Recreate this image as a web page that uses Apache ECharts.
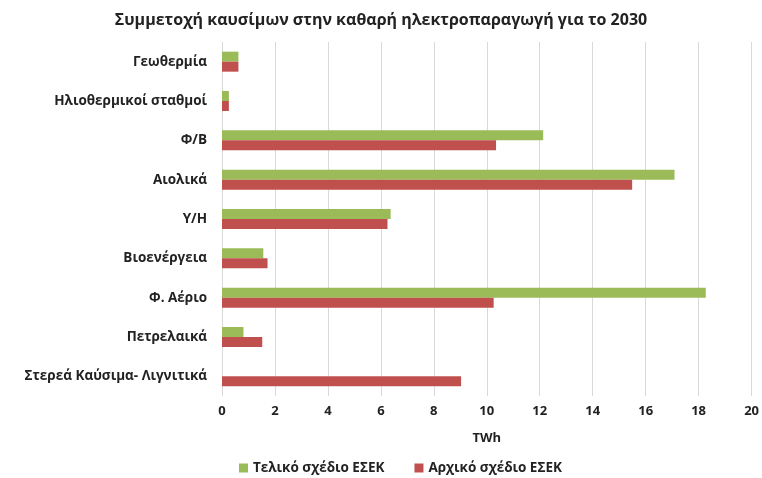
<!DOCTYPE html>
<html>
<head>
<meta charset="utf-8">
<script src="https://cdn.jsdelivr.net/npm/echarts@6/dist/echarts.min.js"></script>
<style>
  html, body { margin: 0; padding: 0; background: #fff; }
  #chart { width: 762px; height: 478px; }
</style>
</head>
<body>
<div id="chart"></div>
<script>
const categories = ['Γεωθερμία', 'Ηλιοθερμικοί σταθμοί', 'Φ/Β', 'Αιολικά', 'Υ/Η',
  'Βιοενέργεια', 'Φ. Αέριο', 'Πετρελαικά', 'Στερεά Καύσιμα- Λιγνιτικά'];
const finalPlan = [0.62, 0.26, 12.13, 17.09, 6.37, 1.56, 18.27, 0.81, 0];
const initialPlan = [0.62, 0.26, 10.35, 15.49, 6.25, 1.72, 10.26, 1.52, 9.03];

const font = '"Open Sans", "Noto Sans", sans-serif';
const chart = echarts.init(document.getElementById('chart'));

chart.setOption({
  animation: false,
  textStyle: { fontFamily: font },
  title: {
    text: 'Συμμετοχή καυσίμων στην καθαρή ηλεκτροπαραγωγή για το 2030',
    left: 'center',
    top: 7,
    textStyle: { fontSize: 16, fontWeight: 'bold', color: '#222', fontFamily: font }
  },
  legend: {
    bottom: -2,
    left: 234,
    itemWidth: 9,
    itemHeight: 9,
    itemGap: 30,
    icon: 'rect',
    textStyle: { fontSize: 13.5, fontWeight: 'bold', color: '#222', fontFamily: font },
    data: ['Τελικό σχέδιο ΕΣΕΚ', 'Αρχικό σχέδιο ΕΣΕΚ']
  },
  grid: { left: 222, right: 9, top: 42, bottom: 82 },
  xAxis: {
    type: 'value',
    min: 0,
    max: 20,
    interval: 2,
    name: 'TWh',
    nameLocation: 'middle',
    nameGap: 36,
    nameTextStyle: { fontSize: 13, fontWeight: 'bold', color: '#222' },
    axisLine: { show: false },
    axisTick: { show: false },
    axisLabel: { fontSize: 13, fontWeight: 'bold', color: '#222', margin: 9 },
    splitLine: { lineStyle: { color: '#d9d9d9', width: 1 } }
  },
  yAxis: {
    type: 'category',
    inverse: true,
    data: categories,
    axisLine: { show: false },
    axisTick: { show: false },
    axisLabel: { fontSize: 13.5, fontWeight: 'bold', color: '#222', margin: 15 }
  },
  series: [
    {
      name: 'Τελικό σχέδιο ΕΣΕΚ',
      type: 'bar',
      data: finalPlan,
      barWidth: 10,
      barGap: '0%',
      itemStyle: { color: '#9BBB59' }
    },
    {
      name: 'Αρχικό σχέδιο ΕΣΕΚ',
      type: 'bar',
      data: initialPlan,
      barWidth: 10,
      barGap: '0%',
      itemStyle: { color: '#C0504D' }
    }
  ]
});
</script>
</body>
</html>
